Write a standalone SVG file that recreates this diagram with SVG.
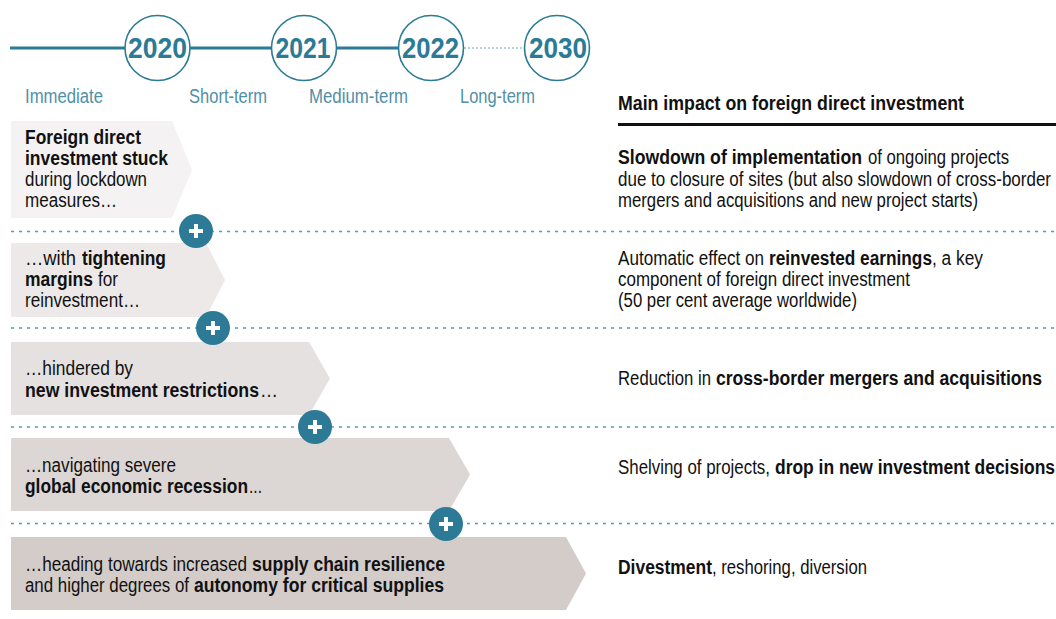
<svg xmlns="http://www.w3.org/2000/svg" width="1056" height="619" viewBox="0 0 1056 619">
<style>
.yr{font-family:"Liberation Sans",Arial,sans-serif;font-weight:bold;font-size:29px;fill:#2b7b96;text-anchor:middle}
.yc{fill:#fff;stroke:#2b7b96;stroke-width:1.6}
.lbl{font-family:"Liberation Sans",Arial,sans-serif;font-size:20px;fill:#4f8fa7}
.t{font-family:"Liberation Sans",Arial,sans-serif;font-size:19.5px;fill:#111}
.h{font-family:"Liberation Sans",Arial,sans-serif;font-size:20px;font-weight:bold;fill:#111}
.b{font-weight:bold}
.sep{stroke:#4f9db8;stroke-width:1.6;stroke-dasharray:3 5;fill:none}
.plus{fill:#2d7a96}
.pl{stroke:#fff;stroke-width:4;stroke-linecap:butt}
</style>
<rect width="1056" height="619" fill="#fff"/>
<g id="connectors">
<line x1="10" y1="48" x2="125" y2="48" stroke="#2b7b96" stroke-width="3"/>
<line x1="190" y1="48" x2="271" y2="48" stroke="#2b7b96" stroke-width="3"/>
<line x1="337" y1="48" x2="398" y2="48" stroke="#2b7b96" stroke-width="3"/>
<line x1="464" y1="48" x2="524" y2="48" stroke="#9ec3d0" stroke-width="1.6" stroke-dasharray="2 2"/>
</g>
<g id="year-2020"><circle class="yc" cx="157.5" cy="48" r="32.5"/><text class="yr" x="157.5" y="58" textLength="59" lengthAdjust="spacingAndGlyphs">2020</text></g>
<g id="year-2021"><circle class="yc" cx="304" cy="48" r="32.5"/><text class="yr" x="303" y="58" textLength="55" lengthAdjust="spacingAndGlyphs">2021</text></g>
<g id="year-2022"><circle class="yc" cx="431" cy="48" r="32.5"/><text class="yr" x="430.5" y="58" textLength="57" lengthAdjust="spacingAndGlyphs">2022</text></g>
<g id="year-2030"><circle class="yc" cx="557" cy="48" r="32.5"/><text class="yr" x="558" y="58" textLength="58" lengthAdjust="spacingAndGlyphs">2030</text></g>
<g id="labels">
<text class="lbl" x="25" y="103" textLength="78" lengthAdjust="spacingAndGlyphs">Immediate</text>
<text class="lbl" x="189" y="103" textLength="78" lengthAdjust="spacingAndGlyphs">Short-term</text>
<text class="lbl" x="309" y="103" textLength="99" lengthAdjust="spacingAndGlyphs">Medium-term</text>
<text class="lbl" x="460" y="103" textLength="75" lengthAdjust="spacingAndGlyphs">Long-term</text>
</g>
<g id="header">
<text class="h" x="618" y="109.5" textLength="346" lengthAdjust="spacingAndGlyphs">Main impact on foreign direct investment</text>
<line x1="618" y1="124.5" x2="1056" y2="124.5" stroke="#111" stroke-width="3"/>
</g>
<g id="separators">
<line class="sep" x1="11" y1="231.5" x2="1056" y2="231.5"/>
<line class="sep" x1="11" y1="328" x2="1056" y2="328"/>
<line class="sep" x1="11" y1="427" x2="1056" y2="427"/>
<line class="sep" x1="11" y1="523.5" x2="1056" y2="523.5"/>
</g>
<g id="stage-1">
<polygon points="11,121 172,121 192,170 172,218 11,218" fill="#f4f2f2"/>
<text class="t b" x="25" y="144" textLength="116" lengthAdjust="spacingAndGlyphs">Foreign direct</text>
<text class="t b" x="25" y="165" textLength="143" lengthAdjust="spacingAndGlyphs">investment stuck</text>
<text class="t" x="25" y="186" textLength="122" lengthAdjust="spacingAndGlyphs">during lockdown</text>
<text class="t" x="25" y="207" textLength="92" lengthAdjust="spacingAndGlyphs">measures…</text>
</g>
<g id="stage-2">
<polygon points="11,243 206,243 225,280 206,317 11,317" fill="#ece9e8"/>
<text class="t" x="25" y="265" textLength="51" lengthAdjust="spacingAndGlyphs">…with</text>
<text class="t b" x="82" y="265" textLength="84" lengthAdjust="spacingAndGlyphs">tightening</text>
<text class="t b" x="25" y="286" textLength="68" lengthAdjust="spacingAndGlyphs">margins</text>
<text class="t" x="98" y="286" textLength="20" lengthAdjust="spacingAndGlyphs">for</text>
<text class="t" x="25" y="307" textLength="115" lengthAdjust="spacingAndGlyphs">reinvestment…</text>
</g>
<g id="stage-3">
<polygon points="11,342 309,342 330,378.5 309,415 11,415" fill="#e4e1e0"/>
<text class="t" x="25" y="375" textLength="108" lengthAdjust="spacingAndGlyphs">…hindered by</text>
<text class="t b" x="25" y="397" textLength="234" lengthAdjust="spacingAndGlyphs">new investment restrictions</text>
<text class="t" x="260" y="397" textLength="18" lengthAdjust="spacingAndGlyphs">…</text>
</g>
<g id="stage-4">
<polygon points="11,438 449,438 470,474.5 449,511 11,511" fill="#dcd6d4"/>
<text class="t" x="25" y="472" textLength="151" lengthAdjust="spacingAndGlyphs">…navigating severe</text>
<text class="t b" x="25" y="493" textLength="223" lengthAdjust="spacingAndGlyphs">global economic recession</text>
<text class="t" x="249" y="493" textLength="13" lengthAdjust="spacingAndGlyphs">...</text>
</g>
<g id="stage-5">
<polygon points="11,537 566,537 586,573.5 566,610 11,610" fill="#d3ccc9"/>
<text class="t" x="25" y="571" textLength="222" lengthAdjust="spacingAndGlyphs">…heading towards increased</text>
<text class="t b" x="252" y="571" textLength="193" lengthAdjust="spacingAndGlyphs">supply chain resilience</text>
<text class="t" x="25" y="592" textLength="164" lengthAdjust="spacingAndGlyphs">and higher degrees of</text>
<text class="t b" x="194" y="592" textLength="250" lengthAdjust="spacingAndGlyphs">autonomy for critical supplies</text>
</g>
<g id="plus-1"><circle class="plus" cx="196" cy="231" r="17"/><path class="pl" d="M189,231H203M196,224V238"/></g>
<g id="plus-2"><circle class="plus" cx="213" cy="328" r="17"/><path class="pl" d="M206,328H220M213,321V335"/></g>
<g id="plus-3"><circle class="plus" cx="315" cy="427" r="17"/><path class="pl" d="M308,427H322M315,420V434"/></g>
<g id="plus-4"><circle class="plus" cx="446" cy="524" r="17"/><path class="pl" d="M439,524H453M446,517V531"/></g>
<g id="impact-1">
<text class="t b" x="618" y="164" textLength="244" lengthAdjust="spacingAndGlyphs">Slowdown of implementation</text>
<text class="t" x="868" y="164" textLength="141" lengthAdjust="spacingAndGlyphs">of ongoing projects</text>
<text class="t" x="618" y="186" textLength="433" lengthAdjust="spacingAndGlyphs">due to closure of sites (but also slowdown of cross-border</text>
<text class="t" x="618" y="207" textLength="360" lengthAdjust="spacingAndGlyphs">mergers and acquisitions and new project starts)</text>
</g>
<g id="impact-2">
<text class="t" x="618" y="265" textLength="146" lengthAdjust="spacingAndGlyphs">Automatic effect on</text>
<text class="t b" x="769" y="265" textLength="163" lengthAdjust="spacingAndGlyphs">reinvested earnings</text>
<text class="t" x="932" y="265" textLength="51" lengthAdjust="spacingAndGlyphs">, a key</text>
<text class="t" x="618" y="286" textLength="292" lengthAdjust="spacingAndGlyphs">component of foreign direct investment</text>
<text class="t" x="618" y="307" textLength="239" lengthAdjust="spacingAndGlyphs">(50 per cent average worldwide)</text>
</g>
<g id="impact-3">
<text class="t" x="618" y="385" textLength="93" lengthAdjust="spacingAndGlyphs">Reduction in</text>
<text class="t b" x="716" y="385" textLength="326" lengthAdjust="spacingAndGlyphs">cross-border mergers and acquisitions</text>
</g>
<g id="impact-4">
<text class="t" x="618" y="474" textLength="152" lengthAdjust="spacingAndGlyphs">Shelving of projects,</text>
<text class="t b" x="775" y="474" textLength="280" lengthAdjust="spacingAndGlyphs">drop in new investment decisions</text>
</g>
<g id="impact-5">
<text class="t b" x="618" y="574" textLength="94" lengthAdjust="spacingAndGlyphs">Divestment</text>
<text class="t" x="712" y="574" textLength="155" lengthAdjust="spacingAndGlyphs">, reshoring, diversion</text>
</g>
</svg>
